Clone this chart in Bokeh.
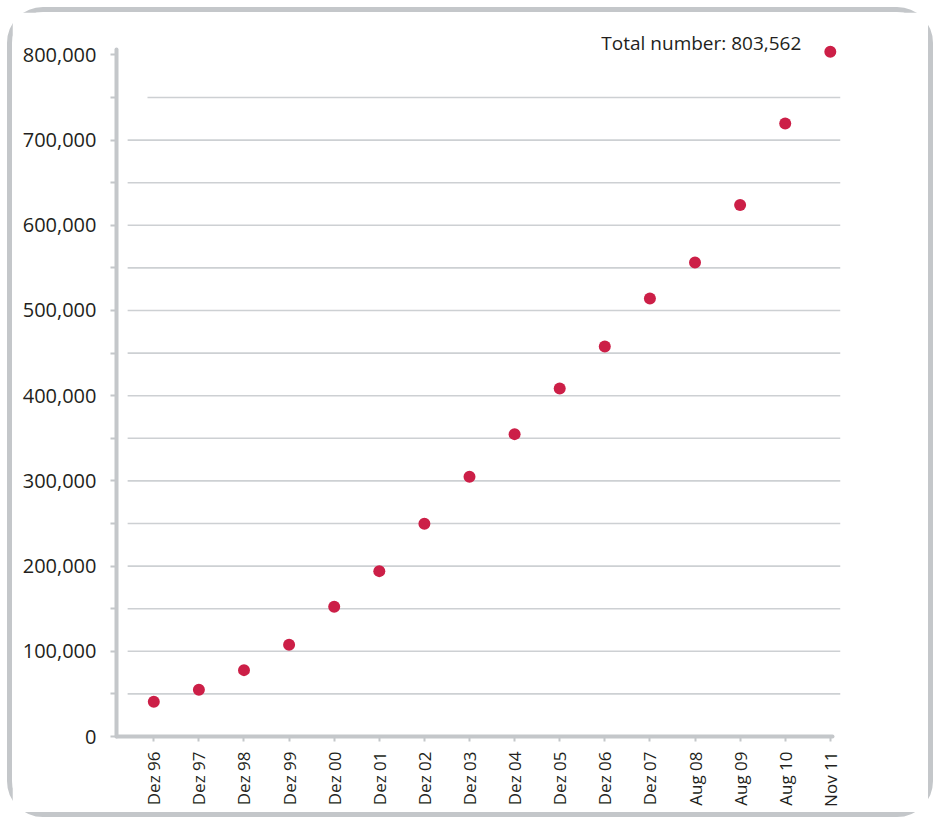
from math import pi
from bokeh.plotting import figure
from bokeh.models import Range1d, FixedTicker, NumeralTickFormatter, Label
from bokeh.embed import file_html
from bokeh.resources import INLINE

# ---- data ----
categories = ["Dez 96", "Dez 97", "Dez 98", "Dez 99", "Dez 00", "Dez 01", "Dez 02",
              "Dez 03", "Dez 04", "Dez 05", "Dez 06", "Dez 07", "Aug 08", "Aug 09",
              "Aug 10", "Nov 11"]
counts = [40700, 54800, 77900, 107600, 152200, 194100, 249600, 304800, 354900,
          408500, 457700, 514100, 556300, 623700, 719500, 803562]
y_ticks = list(range(0, 800001, 50000))
y_labeled = list(range(0, 800001, 100000))
total_label = "Total number: 803,562"

# ---- style ----
RED = "#cc1f47"
AXIS = "#c4c7ca"
GRID = "#cdd0d3"
TEXT = "#231f20"
FONT = "Open Sans"

x_start, x_end = -0.827, 15.226
p = figure(width=916, height=800, output_backend="svg", toolbar_location=None,
           x_range=Range1d(x_start, x_end), y_range=Range1d(0, 845070),
           min_border_left=104, min_border_right=98, min_border_top=4,
           min_border_bottom=86)
p.styles = {"border": "5px solid " + AXIS, "border-radius": "36px",
            "box-sizing": "content-box", "margin": "7px 0 0 7px"}
p.outline_line_color = None
p.background_fill_color = "white"
p.border_fill_color = "white"
p.xgrid.visible = False
p.ygrid.visible = False

# horizontal grid lines (every 50,000, not at 0 or at the top)
grid_y = y_ticks[1:-1]
gx0 = [-0.58] * len(grid_y)
gx0[-1] = -0.14
p.segment(x0=gx0, y0=grid_y, x1=[x_end] * len(grid_y), y1=grid_y,
          line_color=GRID, line_width=1.6)

# points
xs = list(range(len(categories)))
p.scatter(x=xs, y=counts, size=12, fill_color=RED, line_color=None)

p.add_layout(Label(x=xs[-1], y=counts[-1], text=total_label, x_offset=-29, y_offset=9,
                   text_align="right", text_baseline="middle", text_font=FONT,
                   text_font_size="19px", text_color=TEXT))

# x axis
xa = p.xaxis[0]
xa.ticker = FixedTicker(ticks=xs)
xa.major_label_overrides = {i: c for i, c in enumerate(categories)}
xa.major_label_orientation = pi / 2
xa.axis_line_color = AXIS
xa.axis_line_width = 4
xa.axis_line_cap = "round"
xa.bounds = (x_start, 15.05)
xa.major_tick_line_color = AXIS
xa.major_tick_line_width = 2
xa.major_tick_out = 5
xa.major_tick_in = 0
xa.minor_tick_line_color = None
xa.major_label_standoff = 10
xa.major_label_text_font = FONT
xa.major_label_text_font_size = "17px"
xa.major_label_text_color = TEXT

# y axis
ya = p.yaxis[0]
ya.ticker = FixedTicker(ticks=y_ticks)
ya.formatter = NumeralTickFormatter(format="0,0")
ya.major_label_overrides = {t: "" for t in y_ticks if t not in y_labeled}
ya.axis_line_color = AXIS
ya.axis_line_width = 4
ya.axis_line_cap = "round"
ya.bounds = (0, 806000)
ya.major_tick_line_color = AXIS
ya.major_tick_line_width = 2
ya.major_tick_out = 6
ya.major_tick_in = 0
ya.minor_tick_line_color = None
ya.major_label_standoff = 14
ya.major_label_text_font = FONT
ya.major_label_text_font_size = "20px"
ya.major_label_text_color = TEXT

open("out.html", "w").write(file_html(p, INLINE))
